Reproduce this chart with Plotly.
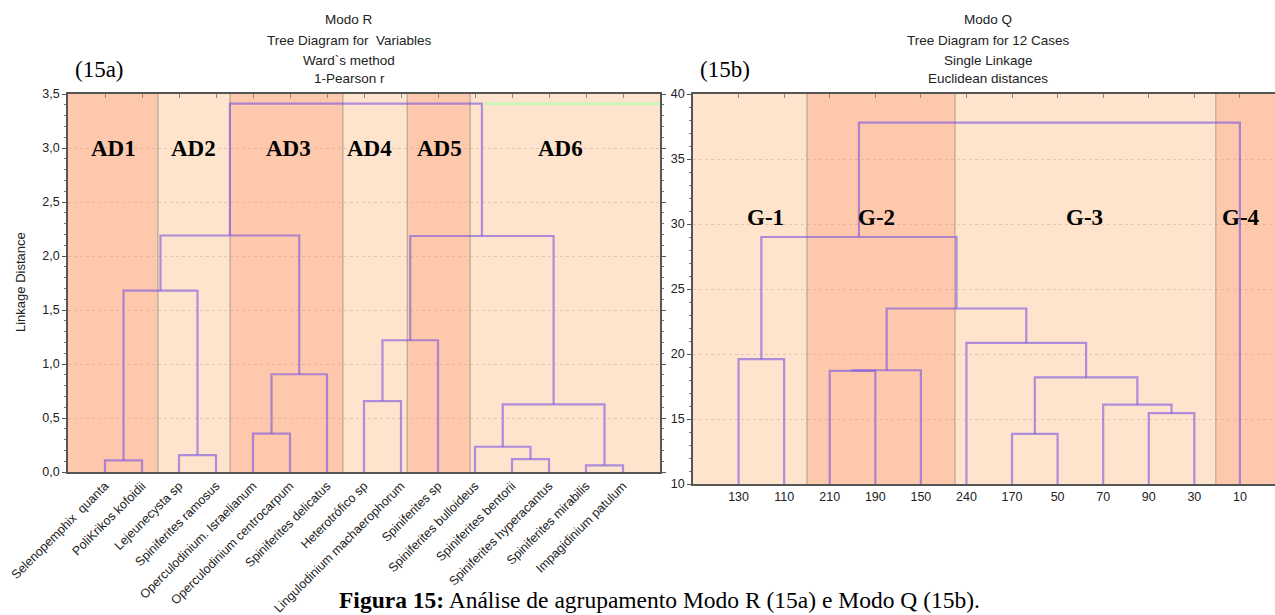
import plotly.graph_objects as go

W, H = 1275, 615

# ---------------- Modo R (15a) data ----------------
r_labels = ["Selenopemphix  quanta", "PoliKrikos kofoidii", "Lejeunecysta sp",
            "Spiniferites ramosus", "Operculodinium. Israelianum",
            "Operculodinium centrocarpum", "Spiniferites delicatus",
            "Heterotrófico sp", "Lingulodinium machaerophorum", "Spiniferites sp",
            "Spiniferites bulloideus", "Spiniferites bentorii",
            "Spiniferites hyperacantus", "Spiniferites mirabilis",
            "Impagidinium patulum"]
# merges: cluster ids < n are leaves; merge k creates cluster n+k
r_merge_a = [0, 2, 15, 4, 18, 17, 7, 21, 11, 10, 13, 24, 22, 20]
r_merge_b = [1, 3, 16, 5, 6, 19, 8, 9, 12, 23, 14, 25, 26, 27]
r_heights = [0.108, 0.157, 1.68, 0.355, 0.905, 2.19, 0.657, 1.22, 0.12,
             0.234, 0.062, 0.627, 2.185, 3.41]
r_groups = ["AD1", "AD2", "AD3", "AD4", "AD5", "AD6"]
r_group_edges = [-1, 1.43, 3.38, 6.43, 8.17, 9.87, 15]
r_group_label_x = [0.22, 2.38, 4.97, 7.14, 9.05, 12.32]

# ---------------- Modo Q (15b) data ----------------
q_labels = ["130", "110", "210", "190", "150", "240", "170", "50", "70", "90", "30", "10"]
q_merge_a = [0, 2, 13, 6, 9, 8, 15, 5, 14, 12, 21]
q_merge_b = [1, 3, 4, 7, 10, 16, 17, 18, 19, 20, 11]
q_heights = [19.6, 18.7, 18.75, 13.85, 15.45, 16.1, 18.2, 20.85, 23.5, 29.0, 37.8]
q_groups = ["G-1", "G-2", "G-3", "G-4"]
q_group_edges = [-1, 1.5, 4.75, 10.47, 11.77]
q_group_label_x = [0.58, 3.03, 7.6, 11.02]

SALMON = "#fdc8ab"
LIGHT = "#fee4cc"
band_colors_r = [SALMON, LIGHT, SALMON, LIGHT, SALMON, LIGHT]
band_colors_q = [LIGHT, SALMON, LIGHT, SALMON]
LINE = "rgba(122,84,226,0.6)"


def dendro(n, a, b, h, base):
    xpos = list(range(n)) + [None] * len(h)
    ypos = [base] * n + list(h)
    xs, ys = [], []
    for k, (i, j, hh) in enumerate(zip(a, b, h)):
        xs += [xpos[i], xpos[i], xpos[j], xpos[j], None]
        ys += [ypos[i], hh, hh, ypos[j], None]
        xpos[n + k] = (xpos[i] + xpos[j]) / 2
    return xs, ys, xpos


rx, ry, rpos = dendro(len(r_labels), r_merge_a, r_merge_b, r_heights, 0)
qx, qy, qpos = dendro(len(q_labels), q_merge_a, q_merge_b, q_heights, 0)


def px_x(p):
    return p / W


def px_y(p):
    return (H - p) / H


fig = go.Figure()
fig.add_trace(go.Scatter(x=rx, y=ry, mode="lines", line=dict(color=LINE, width=2.2),
                         xaxis="x", yaxis="y", hoverinfo="skip", showlegend=False))
# pale green continuation line at top of tree R (right of the last join)
x_last = rpos[r_merge_b[-1]]
fig.add_trace(go.Scatter(x=[x_last + 0.05, 15], y=[r_heights[-1], r_heights[-1]], mode="lines",
                         line=dict(color="#cdf5b8", width=3), xaxis="x", yaxis="y",
                         hoverinfo="skip", showlegend=False))
fig.add_trace(go.Scatter(x=qx, y=qy, mode="lines", line=dict(color=LINE, width=2.2),
                         xaxis="x2", yaxis="y2", hoverinfo="skip", showlegend=False))
# dummy traces for top tick axes
fig.add_trace(go.Scatter(x=[None], y=[None], xaxis="x3", yaxis="y", showlegend=False))
fig.add_trace(go.Scatter(x=[None], y=[None], xaxis="x4", yaxis="y2", showlegend=False))

shapes = []
for i, c in enumerate(band_colors_r):
    shapes.append(dict(type="rect", xref="x", yref="y domain", x0=r_group_edges[i],
                       x1=r_group_edges[i + 1], y0=0, y1=1, fillcolor=c,
                       line=dict(width=0), layer="below"))
for e in r_group_edges[1:-1]:
    shapes.append(dict(type="line", xref="x", yref="y domain", x0=e, x1=e, y0=0, y1=1,
                       line=dict(color="rgba(120,110,100,0.45)", width=1.3), layer="below"))
for i, c in enumerate(band_colors_q):
    shapes.append(dict(type="rect", xref="x2", yref="y2 domain", x0=q_group_edges[i],
                       x1=q_group_edges[i + 1], y0=0, y1=1, fillcolor=c,
                       line=dict(width=0), layer="below"))
for e in q_group_edges[1:-1]:
    shapes.append(dict(type="line", xref="x2", yref="y2 domain", x0=e, x1=e, y0=0, y1=1,
                       line=dict(color="rgba(120,110,100,0.45)", width=1.3), layer="below"))

ann = []
BIG = dict(family="Liberation Serif, Times New Roman, serif", size=23, color="black")
for g, gx in zip(r_groups, r_group_label_x):
    ann.append(dict(x=gx, y=3.0, xref="x", yref="y", text="<b>%s</b>" % g,
                    showarrow=False, font=BIG, xanchor="center", yanchor="middle"))
for g, gx in zip(q_groups, q_group_label_x):
    ann.append(dict(x=gx, y=30.5, xref="x2", yref="y2", text="<b>%s</b>" % g,
                    showarrow=False, font=BIG, xanchor="center", yanchor="middle"))

TF = dict(family="Liberation Sans, Arial, sans-serif", size=13.5, color="#222")
title_r = ["Modo R", "Tree Diagram for  Variables", "Ward`s method", "1-Pearson r"]
title_q = ["Modo Q", "Tree Diagram for 12 Cases", "Single Linkage", "Euclidean distances"]
ty = [20, 40.5, 60.5, 79]
for t, yy in zip(title_r, ty):
    ann.append(dict(x=px_x(349), y=px_y(yy), xref="paper", yref="paper", text=t,
                    showarrow=False, font=TF, xanchor="center", yanchor="middle"))
for t, yy in zip(title_q, ty):
    ann.append(dict(x=px_x(988), y=px_y(yy), xref="paper", yref="paper", text=t,
                    showarrow=False, font=TF, xanchor="center", yanchor="middle"))

PF = dict(family="Liberation Serif, Times New Roman, serif", size=23, color="black")
ann.append(dict(x=px_x(99), y=px_y(70), xref="paper", yref="paper", text="(15a)",
                showarrow=False, font=PF, xanchor="center", yanchor="middle"))
ann.append(dict(x=px_x(725), y=px_y(70), xref="paper", yref="paper", text="(15b)",
                showarrow=False, font=PF, xanchor="center", yanchor="middle"))
ann.append(dict(x=px_x(337), y=px_y(585), xref="paper", yref="paper",
                text="<b>Figura 15:</b> Análise de agrupamento Modo R (15a) e Modo Q (15b).",
                showarrow=False, xanchor="left", yanchor="top",
                font=dict(family="Liberation Serif, Times New Roman, serif", size=23.5,
                          color="black")))
ann.append(dict(x=px_x(20), y=px_y(282), xref="paper", yref="paper",
                text="Linkage Distance", textangle=-90, showarrow=False,
                xanchor="center", yanchor="middle",
                font=dict(family="Liberation Sans, Arial, sans-serif", size=13, color="#222")))

TICKF = dict(family="Liberation Sans, Arial, sans-serif", size=12.5, color="#222")
AXC = "#555"
GRID = "rgba(185,150,130,0.35)"

fig.update_layout(
    width=W, height=H, autosize=False,
    margin=dict(l=0, r=0, t=0, b=0, autoexpand=False),
    paper_bgcolor="white", plot_bgcolor="white",
    separators=",.",
    shapes=shapes, annotations=ann,
    font=TICKF,
    xaxis=dict(domain=[px_x(68), px_x(660)], range=[-1, 15], anchor="y", automargin=False,
               tickmode="array", tickvals=list(range(len(r_labels))), ticktext=r_labels,
               tickangle=-45, tickfont=TICKF, ticks="", showgrid=False, zeroline=False,
               showline=True, linecolor=AXC, linewidth=1.5, mirror=True),
    yaxis=dict(domain=[px_y(472), px_y(94)], range=[0, 3.5], anchor="x", automargin=False,
               dtick=0.5, tickformat=".1f", tickfont=TICKF, ticks="outside", ticklen=4,
               tickcolor=AXC, showline=True, linecolor=AXC, linewidth=1.5, mirror="ticks",
               showgrid=True, gridcolor=GRID, griddash="dot", zeroline=False,
               minor=dict(dtick=0.1, ticks="outside", ticklen=2, tickcolor="#777")),
    xaxis3=dict(overlaying="x", side="top", range=[-1, 15], anchor="y", automargin=False,
                tickmode="array", tickvals=list(range(len(r_labels))),
                showticklabels=False, ticks="inside", ticklen=4, tickcolor="#888",
                showgrid=False, zeroline=False, showline=False),
    xaxis2=dict(domain=[px_x(693), 1.0], range=[-1, 11.77], anchor="y2", automargin=False,
                tickmode="array", tickvals=list(range(len(q_labels))), ticktext=q_labels,
                tickangle=0, tickfont=TICKF, ticks="", showgrid=False, zeroline=False,
                showline=True, linecolor=AXC, linewidth=1.5, mirror=True),
    yaxis2=dict(domain=[px_y(484), px_y(94)], range=[10, 40], anchor="x2", automargin=False,
                dtick=5, tickfont=TICKF, ticks="outside", ticklen=4, tickcolor=AXC,
                showline=True, linecolor=AXC, linewidth=1.5, mirror="ticks",
                showgrid=True, gridcolor=GRID, griddash="dot", zeroline=False,
                minor=dict(dtick=1, ticks="outside", ticklen=2, tickcolor="#777")),
    xaxis4=dict(overlaying="x2", side="top", range=[-1, 11.77], anchor="y2", automargin=False,
                tickmode="array", tickvals=list(range(len(q_labels))),
                showticklabels=False, ticks="inside", ticklen=4, tickcolor="#888",
                showgrid=False, zeroline=False, showline=False),
)

fig.write_html("out.html", config={"displayModeBar": False},
               post_script="document.body.style.margin='0px';")
